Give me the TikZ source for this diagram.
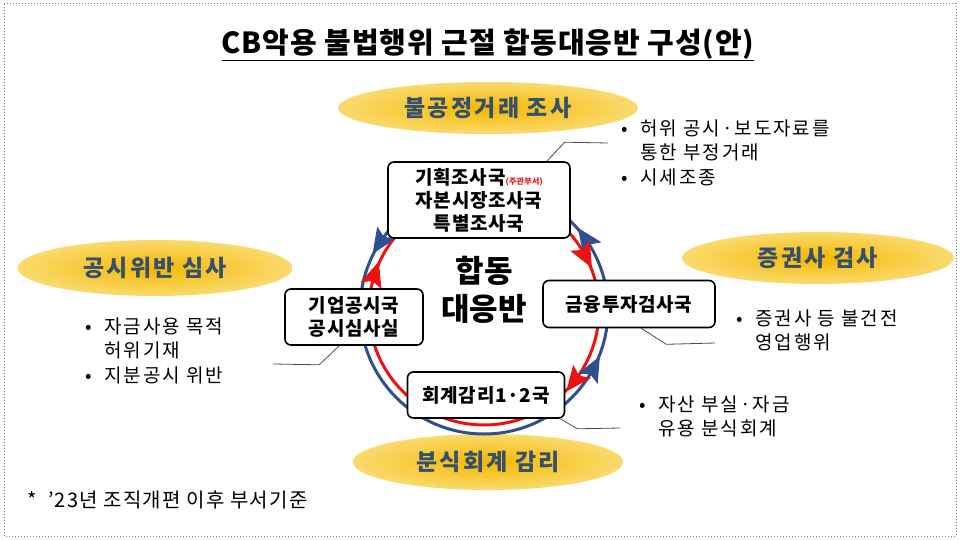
\documentclass[tikz,border=0pt]{standalone}
\usepackage{fontspec}
\setmainfont{Noto Sans CJK KR}
\usetikzlibrary{shapes.geometric,calc}
\definecolor{gold}{HTML}{F5B800}
\definecolor{goldl}{HTML}{FCE38A}
\definecolor{slate}{HTML}{34506E}
\definecolor{cblue}{HTML}{2F4F8F}
\definecolor{cred}{HTML}{F01010}
\newcommand{\wide}[1]{\addfontfeature{LetterSpace=#1}}
\begin{document}
\begin{tikzpicture}[x=1pt,y=-1pt,
  ell/.style={ellipse,inner sep=0pt,inner color=gold,outer color=goldl!80!gold,text=slate,font=\bfseries\fontsize{23}{26}\selectfont\wide{10}},
  box/.style={draw,line width=1.6pt,rounded corners=6pt,fill=white,align=center,font=\bfseries\fontsize{19}{23}\selectfont\wide{4}},
  lead/.style={draw=black!70,line width=0.8pt},
  bul/.style={align=left,anchor=north west,font=\fontsize{19}{24.5}\selectfont\wide{10}},
  head/.style={scale=1.7}]
\useasboundingbox (0,0) rectangle (960,540);
\draw[gray,dotted,line width=1pt] (4,4) rectangle (956,536);
\node[font=\bfseries\fontsize{29}{32}\selectfont\wide{3}] (title) at (488,45) {\underline{CB악용 불법행위 근절 합동대응반 구성(안)}};

\node[ell,minimum width=300,minimum height=52] (e1) at (488,108) {불공정거래 조사};
\node[ell,minimum width=275,minimum height=56] (e2) at (155,268) {공시위반 심사};
\node[ell,minimum width=272,minimum height=52] (e3) at (818,258) {증권사 검사};
\node[ell,minimum width=270,minimum height=56] (e4) at (488,462) {분식회계 감리};

% circles
\coordinate (c) at (484,310);
\draw[cblue,line width=3pt] (c) circle (124);
\draw[cred,line width=3pt] (c) circle (115);
\foreach \a in {-147,-35,28}{
  \fill[cblue,shift={($(c)+(\a:124)$)},rotate={-(\a-90)},head] (8,0) -- (-7,6.5) -- (-4,0) -- (-7,-6.5) -- cycle;}
\foreach \a in {-162,-28,38}{
  \fill[cred,shift={($(c)+(\a:115)$)},rotate={-(\a+90)},head] (8,0) -- (-7,6.5) -- (-4,0) -- (-7,-6.5) -- cycle;}

\node[box,minimum width=182,minimum height=76,inner sep=0pt] (b1) at (479,200) {기획조사국{\color{cred}\fontsize{8}{9}\selectfont(주관부서)}\\자본시장조사국\\특별조사국};
\node[box,minimum width=138,minimum height=56,inner sep=0pt] (b2) at (354,317) {기업공시국\\공시심사실};
\node[box,minimum width=172,minimum height=47,inner sep=0pt] (b3) at (629,304) {금융투자검사국};
\node[box,minimum width=157,minimum height=46,inner sep=0pt] (b4) at (486,395) {회계감리1·2국};
\node[font=\bfseries\fontsize{31}{38}\selectfont,align=center] (ctr) at (484,290) {합동\\대응반};

\coordinate (l1) at (608,143); \coordinate (l2) at (273,364);
\coordinate (l3) at (715,343); \coordinate (l4) at (620,428);
\draw[lead] (b1.north east) ++(-24,0) -- ++(18,-19) -- (l1);
\draw[lead] (b2.south west) ++(55,0) -- ++(-20,19) -- (l2);
\draw[lead] (b3.south west) ++(99,0) -- ++(25,16) -- (l3);
\draw[lead] (b4.south east) ++(-5,0) -- ++(17,10) -- (l4);

\node[bul] (t1) at (618,116) {•\ \ 허위 공시·보도자료를\\\phantom{•\ \ }통한 부정거래\\•\ \ 시세조종};
\node[bul] (t2) at (82,314) {•\ \ 자금사용 목적\\\phantom{•\ \ }허위기재\\•\ \ 지분공시 위반};
\node[bul] (t3) at (733,306) {•\ \ 증권사 등 불건전\\\phantom{•\ \ }영업행위};
\node[bul] (t4) at (636,392) {•\ \ 자산 부실·자금\\\phantom{•\ \ }유용 분식회계};
\node[anchor=west,font=\fontsize{20}{23}\selectfont\wide{6}] (fn) at (24,500) {*\ \ ’23년 조직개편 이후 부서기준};
\end{tikzpicture}
\end{document}
